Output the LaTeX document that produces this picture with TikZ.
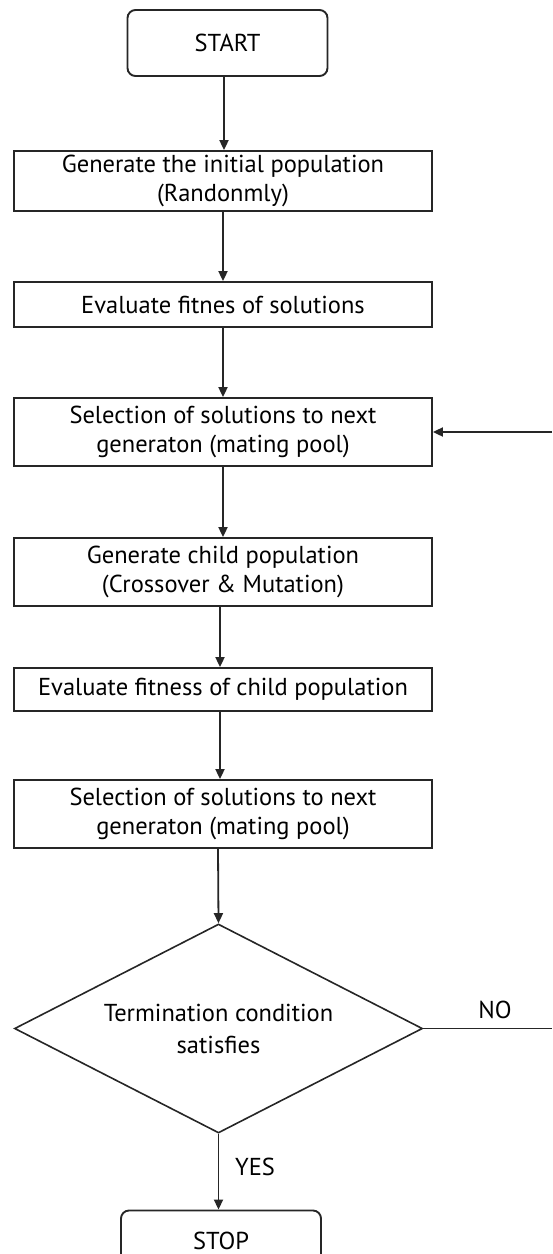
\documentclass[tikz,border=0pt]{standalone}
\usepackage{fontspec}
\setmainfont{PT Sans}
\usetikzlibrary{shapes.geometric,arrows.meta}
\begin{document}
\begin{tikzpicture}[x=1pt,y=-1pt,
  every node/.style={font=\fontsize{24.5}{29}\selectfont, align=center, inner sep=0pt, text=black},
  procbox/.style={draw=black!85, line width=1.8pt, minimum width=418pt},
  termbox/.style={draw=black!85, line width=1.9pt, rounded corners=8pt, minimum width=200pt, minimum height=66pt},
  decbox/.style={draw=black!85, line width=1.6pt, shape=diamond, aspect=2, minimum width=408pt, minimum height=209pt, font=\fontsize{24.5}{32}\selectfont},
  arr/.style={draw=black!85, line width=1.8pt, -{Triangle[length=10pt,width=9pt]}},
  conn/.style={draw=black!85, line width=1.8pt}]
\useasboundingbox (0,0) rectangle (552,1254);
\node[termbox] (start) at (227.5,43) {START};
\node[procbox, minimum height=60pt] (b1) at (223,181) {Generate the initial population\\(Randonmly)};
\node[procbox, minimum height=45pt] (b2) at (223,304.5) {Evaluate fitnes of solutions};
\node[procbox, minimum height=68pt] (b3) at (223,432) {Selection of solutions to next\\generaton (mating pool)};
\node[procbox, minimum height=68pt] (b4) at (223,572) {Generate child population\\(Crossover \& Mutation)};
\node[procbox, minimum height=43pt] (b5) at (223,689.5) {Evaluate fitness of child population};
\node[procbox, minimum height=68pt] (b6) at (223,814) {Selection of solutions to next\\generaton (mating pool)};
\node[decbox] (dec) at (218.5,1028.5) {Termination condition\\satisfies};
\node[termbox, text depth=6pt] (stop) at (221,1243.5) {STOP};
\node (no) at (495,1010) {NO};
\node (yes) at (255,1167) {YES};
\coordinate (a1) at (224,0);
\coordinate (a2) at (223,0);
\coordinate (a4) at (220,0);
\coordinate (a6) at (218,0);
\coordinate (noend) at (552,1028.5);
\coordinate (backin) at (552,432);
\draw[arr] (start.south -| a1) -- (b1.north -| a1);
\draw[arr] (b1.south -| a2) -- (b2.north -| a2);
\draw[arr] (b2.south -| a2) -- (b3.north -| a2);
\draw[arr] (b3.south -| a2) -- (b4.north -| a2);
\draw[arr] (b4.south -| a4) -- (b5.north -| a4);
\draw[arr] (b5.south -| a4) -- (b6.north -| a4);
\draw[arr] (b6.south -| a6) -- (dec.north);
\draw[arr] (dec.south) -- (stop.north -| dec.south);
\draw[conn] (dec.east) -- (noend);
\draw[arr] (backin) -- (b3.east);
\end{tikzpicture}
\end{document}
